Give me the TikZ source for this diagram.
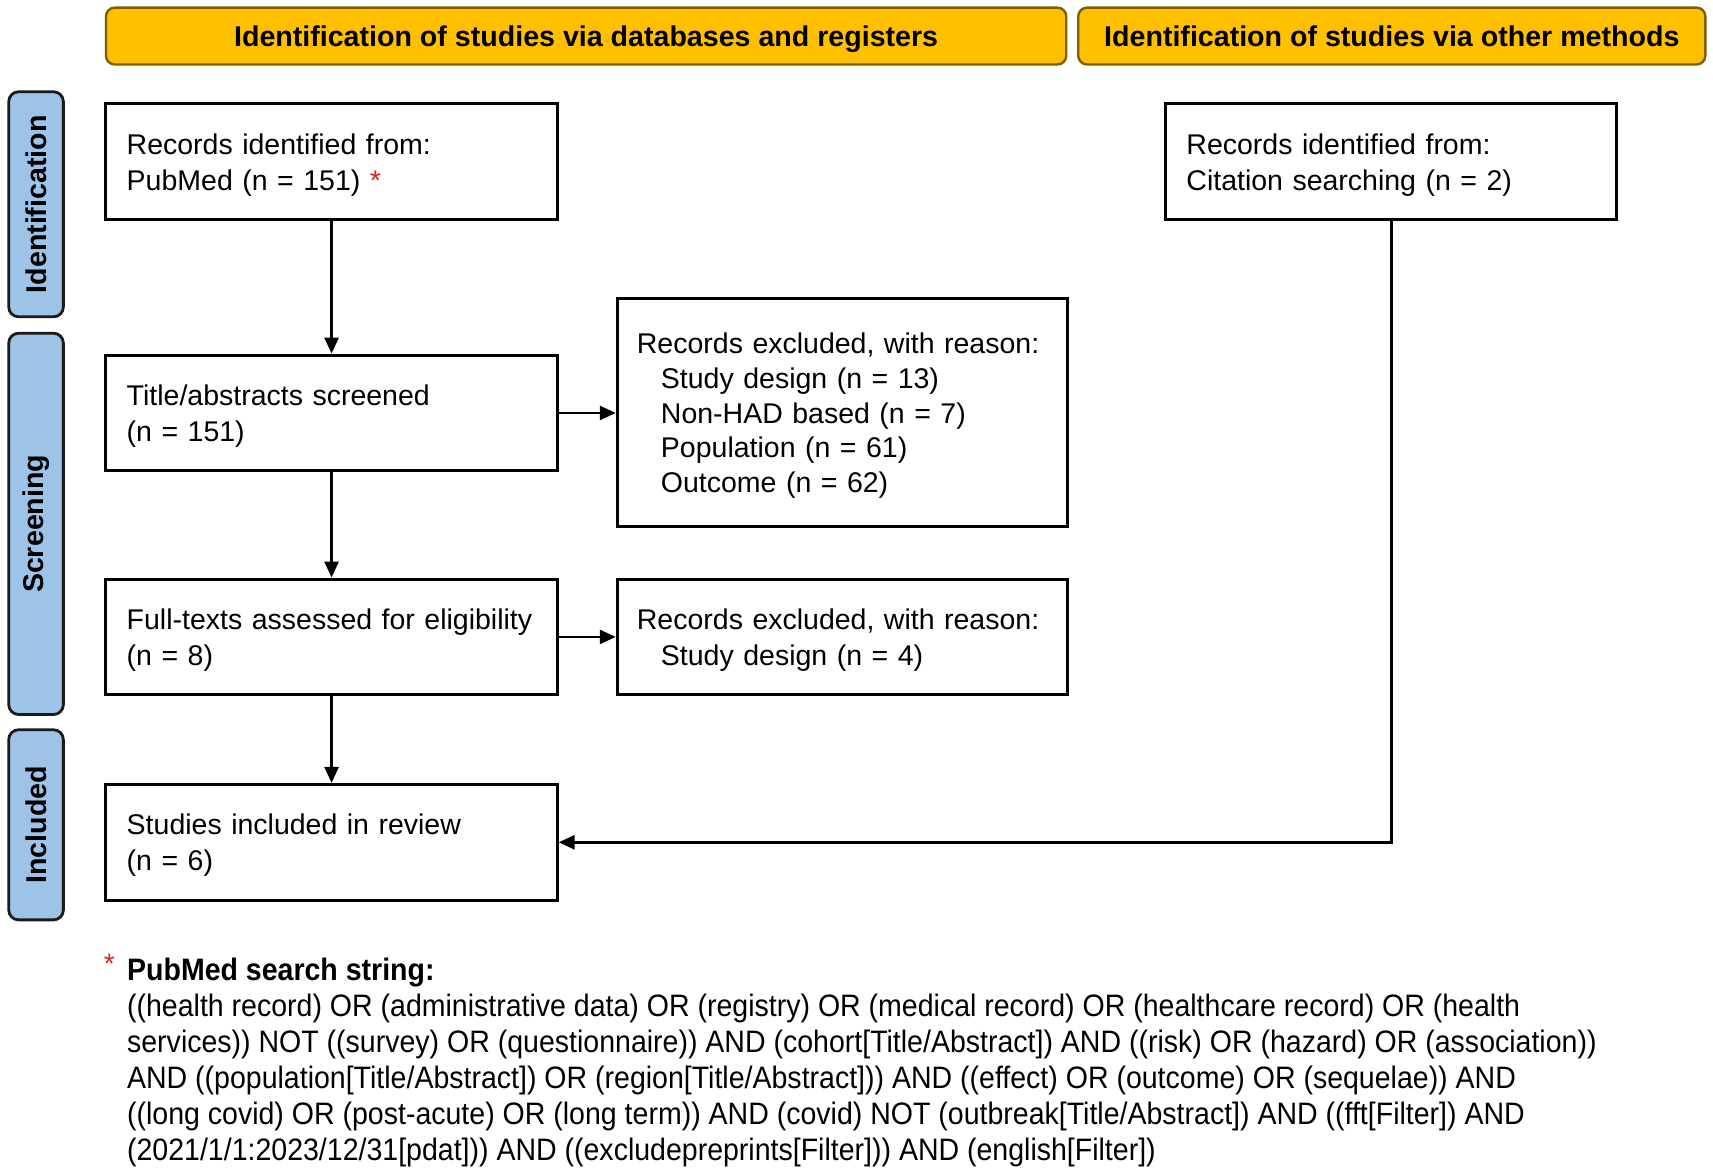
\documentclass[tikz,border=0pt]{standalone}
\usepackage{fontspec}
\setmainfont{Liberation Sans}
\newfontfamily\narrowfont[FakeStretch=0.92]{Liberation Sans}
\usetikzlibrary{arrows.meta}
\newlength\uu \setlength\uu{0.54625pt}
\definecolor{hdrfill}{HTML}{FFC000}
\definecolor{hdrdraw}{HTML}{7F6000}
\definecolor{sidefill}{HTML}{9DC3E6}
\definecolor{sidedraw}{HTML}{1A1A1A}
\definecolor{starred}{HTML}{E02020}
\newcommand{\bodyfont}{\fontsize{14.25pt}{18pt}\selectfont}
\begin{document}
\begin{tikzpicture}[x=0.54625pt,y=-0.54625pt,
  box/.style={draw=black,line width=1.5pt,fill=white,align=left,
    inner xsep=19\uu,inner ysep=0pt,text width=375\uu,
    minimum height=106\uu,font=\bodyfont,
    execute at begin node={\hyphenpenalty=10000\rule{0pt}{13.6pt}}},
  hdr/.style={draw=hdrdraw,line width=1.2pt,fill=hdrfill,rounded corners=8\uu,
    minimum height=52\uu,inner sep=0pt,text height=13.2pt,text depth=3pt,
    font=\fontsize{14.3pt}{17pt}\selectfont\bfseries},
  side/.style={draw=sidedraw,line width=1.4pt,fill=sidefill,rounded corners=9\uu,
    rotate=90,minimum height=50\uu,inner sep=0pt,font=\fontsize{14.3pt}{17pt}\selectfont\bfseries},
  arr/.style={line width=1.3pt,-{Triangle[length=8pt,width=7pt]}}]
\useasboundingbox (0,0) rectangle (1568,1073.7);

% headers
\node[hdr,minimum width=879\uu] (h1) at (536.5,33) {Identification of studies via databases and registers};
\node[hdr,minimum width=574\uu] (h2) at (1274,33) {Identification of studies via other methods};

% side labels
\node[side,minimum width=206\uu] (s1) at (33,187) {Identification};
\node[side,minimum width=349\uu] (s2) at (33,479.5) {Screening};
\node[side,minimum width=174\uu] (s3) at (33,755) {Included};

% boxes
\node[box] (A) at (303.5,148) {Records identified from:\\PubMed (n = 151) \textcolor{starred}{*}};
\node[box] (B) at (1273.5,148) {Records identified from:\\Citation searching (n = 2)};
\node[box] (C) at (303.5,378) {Title/abstracts screened\\(n = 151)};
\node[box,inner xsep=18\uu,text width=376\uu,minimum height=209\uu,
  font=\fontsize{14.25pt}{17.35pt}\selectfont] (D) at (771,377.5)
  {Records excluded, with reason:\\\hspace*{22\uu}Study design (n = 13)\\\hspace*{22\uu}Non-HAD based (n = 7)\\\hspace*{22\uu}Population (n = 61)\\\hspace*{22\uu}Outcome (n = 62)};
\node[box] (E) at (303.5,583) {\mbox{Full-texts assessed for eligibility}\\(n = 8)};
\node[box,inner xsep=18\uu,text width=376\uu] (F) at (771,583)
  {Records excluded, with reason:\\\hspace*{22\uu}Study design (n = 4)};
\node[box] (G) at (303.5,771) {Studies included in review\\(n = 6)};

% arrows
\draw[arr] (A) -- (C);
\draw[arr] (C) -- (E);
\draw[arr] (E) -- (G);
\draw[arr] (C.east) -- (C.east -| D.west);
\draw[arr] (E.east) -- (E.east -| F.west);
\draw[arr] (B.south) |- (G.east);

% footnote
\node[text=starred,inner sep=0pt,font=\fontsize{14pt}{14pt}\selectfont] (ast) at (100,882) {*};
\node[anchor=north west,inner sep=0pt,align=left,font=\narrowfont\fontsize{15.5pt}{18pt}\selectfont] (note) at (116,877)
 {\textbf{PubMed search string:}\\
 ((health record) OR (administrative data) OR (registry) OR (medical record) OR (healthcare record) OR (health\\
 services)) NOT ((survey) OR (questionnaire)) AND (cohort[Title/Abstract]) AND ((risk) OR (hazard) OR (association))\\
 AND ((population[Title/Abstract]) OR (region[Title/Abstract])) AND ((effect) OR (outcome) OR (sequelae)) AND\\
 ((long covid) OR (post-acute) OR (long term)) AND (covid) NOT (outbreak[Title/Abstract]) AND ((fft[Filter]) AND\\
 (2021/1/1:2023/12/31[pdat])) AND ((excludepreprints[Filter])) AND (english[Filter])};
\end{tikzpicture}
\end{document}
